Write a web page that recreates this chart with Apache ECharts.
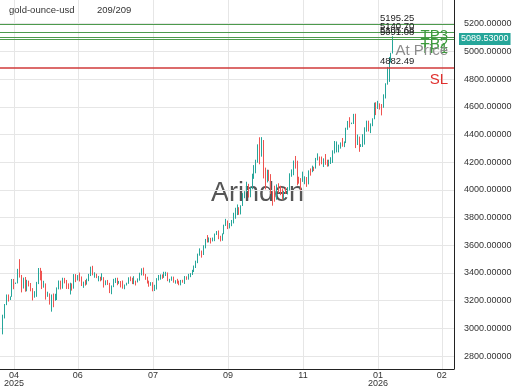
<!DOCTYPE html>
<html><head><meta charset="utf-8">
<script src="https://cdn.jsdelivr.net/npm/echarts@6/dist/echarts.min.js"></script>
<style>html,body{margin:0;padding:0;background:#fff}#c{width:520px;height:390px}</style>
</head><body><div id="c"></div>
<script>
// daily candles [open, close, low, high], 2025-04-09 .. 2026-01-26 (209 weekdays)
const apr = [[2982,3083,2957,3099],[3083,3175,3072,3176],[3175,3237,3168,3245],[3237,3211,3194,3245],[3211,3230,3205,3231],[3230,3343,3228,3357],[3343,3327,3283,3357],[3327,3327,3321,3331],[3327,3424,3325,3430],[3424,3381,3367,3500],[3381,3288,3260,3386],[3288,3349,3288,3367],[3349,3319,3265,3371],[3319,3344,3268,3351],[3344,3316,3303,3345],[3316,3289,3268,3328]];
const may = [[3289,3239,3202,3291],[3239,3241,3222,3269],[3241,3334,3228,3336],[3334,3431,3320,3436],[3431,3365,3347,3437],[3365,3306,3284,3416],[3306,3325,3294,3344],[3325,3236,3208,3325],[3236,3249,3228,3265],[3249,3178,3172,3253],[3178,3240,3121,3245],[3240,3201,3153,3252],[3201,3230,3200,3250],[3230,3290,3205,3296],[3290,3314,3282,3346],[3314,3294,3281,3345],[3294,3357,3287,3366],[3357,3342,3325,3365],[3342,3300,3285,3350],[3300,3288,3284,3325],[3288,3318,3245,3330],[3318,3289,3273,3325]];
const jun = [[3289,3381,3287,3392],[3381,3352,3334,3392],[3352,3374,3346,3385],[3374,3352,3339,3403],[3352,3310,3306,3375],[3310,3325,3293,3338],[3325,3322,3309,3349],[3322,3354,3316,3359],[3354,3386,3341,3394],[3386,3432,3378,3446],[3432,3385,3383,3452],[3385,3388,3366,3405],[3388,3369,3363,3395],[3369,3369,3340,3379],[3369,3368,3340,3373],[3368,3368,3347,3398],[3368,3323,3295,3370],[3323,3332,3312,3347],[3332,3328,3314,3350],[3328,3274,3255,3329],[3274,3303,3247,3310]];
const jul = [[3303,3338,3298,3358],[3338,3357,3328,3365],[3357,3326,3312,3366],[3326,3337,3322,3343],[3337,3336,3296,3342],[3336,3302,3287,3346],[3302,3313,3283,3317],[3313,3325,3310,3330],[3325,3355,3322,3369],[3355,3343,3341,3375],[3343,3324,3320,3366],[3324,3347,3319,3377],[3347,3339,3310,3345],[3339,3350,3332,3361],[3350,3397,3345,3402],[3397,3432,3383,3434],[3432,3387,3381,3439],[3387,3368,3351,3393],[3368,3337,3324,3373],[3337,3314,3301,3345],[3314,3326,3308,3334],[3326,3275,3268,3334],[3275,3289,3270,3315]];
const aug = [[3289,3363,3281,3363],[3363,3373,3346,3386],[3373,3380,3352,3390],[3380,3369,3358,3390],[3369,3397,3365,3409],[3397,3398,3378,3409],[3398,3342,3341,3404],[3342,3348,3331,3358],[3348,3356,3344,3375],[3356,3336,3330,3374],[3336,3336,3323,3348],[3336,3332,3323,3358],[3332,3316,3312,3345],[3316,3348,3311,3350],[3348,3339,3330,3351],[3339,3372,3321,3378],[3372,3366,3351,3376],[3366,3393,3352,3394],[3393,3397,3370,3399],[3397,3416,3386,3423],[3416,3447,3407,3454]];
const sep = [[3447,3476,3436,3489],[3476,3533,3471,3540],[3533,3559,3525,3578],[3559,3545,3511,3562],[3545,3587,3530,3600],[3587,3636,3578,3646],[3636,3625,3620,3674],[3625,3641,3621,3657],[3641,3634,3613,3654],[3634,3643,3628,3656],[3643,3679,3630,3685],[3679,3690,3675,3703],[3690,3660,3644,3707],[3660,3643,3628,3669],[3643,3685,3633,3686],[3685,3746,3680,3749],[3746,3764,3740,3791],[3764,3736,3717,3779],[3736,3749,3722,3761],[3749,3760,3738,3783],[3760,3833,3758,3835],[3833,3859,3792,3871]];
const oct = [[3859,3865,3818,3895],[3865,3857,3820,3875],[3857,3886,3823,3889],[3886,3961,3884,3977],[3961,3985,3940,3991],[3985,4040,3983,4059],[4040,3976,3945,4044],[3976,4018,3947,4022],[4018,4110,4005,4117],[4110,4142,4080,4179],[4142,4208,4120,4218],[4208,4326,4196,4329],[4326,4252,4185,4380],[4252,4356,4240,4381],[4356,4125,4083,4360],[4125,4093,4004,4161],[4093,4126,4054,4146],[4126,4112,4063,4145],[4112,3982,3971,4114],[3982,3951,3886,3991],[3951,3930,3915,4030],[3930,4024,3929,4040],[4024,4003,3976,4048]];
const nov = [[4003,4001,3962,4030],[4001,3932,3929,4011],[3932,3980,3931,3992],[3980,3977,3971,4020],[3977,4000,3967,4020],[4000,4116,3996,4120],[4116,4127,4095,4148],[4127,4195,4106,4212],[4195,4171,4154,4245],[4171,4080,4033,4211],[4080,4068,4045,4095],[4068,4066,3997,4085],[4066,4078,4058,4132],[4078,4078,4041,4098],[4078,4064,4022,4093],[4064,4137,4040,4141],[4137,4132,4103,4155],[4132,4162,4128,4175],[4162,4157,4136,4167],[4157,4216,4154,4231]];
const dec = [[4216,4231,4213,4264],[4231,4206,4175,4241],[4206,4200,4185,4241],[4200,4206,4165,4228],[4206,4198,4181,4259],[4198,4190,4168,4218],[4190,4208,4170,4218],[4208,4228,4187,4236],[4228,4279,4195,4286],[4279,4300,4263,4353],[4300,4303,4271,4350],[4303,4303,4271,4327],[4303,4338,4298,4343],[4338,4330,4312,4375],[4330,4339,4309,4350],[4339,4444,4338,4449],[4444,4491,4434,4498],[4491,4480,4450,4525],[4480,4481,4475,4486],[4481,4533,4476,4549],[4533,4332,4302,4550],[4332,4371,4324,4400],[4371,4318,4275,4385]];
const jan = [[4318,4320,4310,4330],[4320,4330,4310,4402],[4330,4448,4327,4452],[4448,4495,4420,4500],[4495,4455,4422,4500],[4455,4478,4410,4480],[4478,4510,4460,4517],[4510,4598,4510,4630],[4598,4590,4540,4633],[4590,4625,4585,4643],[4625,4615,4580,4625],[4615,4595,4538,4620],[4595,4670,4593,4690],[4670,4765,4660,4770],[4765,4830,4760,4888],[4830,4935,4780,4960],[4935,4985,4920,4990],[4985,5089.53,4985,5110]];

const yTicks = [2800,3000,3200,3400,3600,3800,4000,4200,4400,4600,4800,5000,5200,5400];
const xTickSlots = [7,41,81,121,161,201,235];
const xTickTexts = ['04\n2025','06','07','09','11','01\n2026','02'];
const levelNames = ['TP3','TP2','TP1','At Price','SL'];
const levelValues = [5195.25,5140.70,5105.68,5091.08,4882.49];
const levelColors = ['#3d9a3d','#3d9a3d','#3d9a3d','#8c8c8c','#e0302e'];
const levelLineColors = ['#4d9a4d','#4d9a4d','#4d9a4d','#4d9a4d','#d03a3a'];
const levelLineWidths = [1,1,1,1,1.6];
const lastPrice = 5089.53;
const header = ['gold-ounce-usd','209/209'];
const watermark = 'Arinden';

const candles = [].concat(apr,may,jun,jul,aug,sep,oct,nov,dec,jan);
const padLeft = 1, totalSlots = 242, labelSlot = 202;
const cats = [];
for (let i = 0; i < totalSlots; i++) cats.push('s' + i);
const data = candles.map((c, i) => [i + padLeft, c[0], c[1], c[2], c[3]]);
const font = 'Liberation Sans, Arial, sans-serif';
const isTick = (i) => xTickSlots.indexOf(i) >= 0;

const mlData = levelValues.map((v, k) => ({
  yAxis: v, name: levelNames[k],
  lineStyle: { color: levelLineColors[k], width: levelLineWidths[k], type: 'solid', opacity: 1 },
  label: { show: true, position: 'insideEndBottom', distance: [6, 4.5], formatter: levelNames[k],
           color: levelColors[k], fontSize: 15, fontFamily: font }
}));
mlData.push({
  yAxis: lastPrice,
  lineStyle: { color: '#4d9a4d', width: 1, type: 'solid' },
  label: { show: true, position: 'end', distance: 5, formatter: lastPrice.toFixed(5),
           backgroundColor: '#26a69a', color: '#fff', fontSize: 9, padding: [2, 2, 1, 2], fontFamily: font }
});
const mpData = levelValues.map((v) => ({
  coord: [labelSlot, v], value: v,
  label: { show: true, position: [0, -11], formatter: v.toFixed(2), color: '#222', fontSize: 9.5, fontFamily: font }
}));

const chart = echarts.init(document.getElementById('c'), null, { renderer: 'canvas' });
chart.setOption({
  animation: false,
  backgroundColor: '#fff',
  grid: { left: 0, right: 66, top: -4, bottom: 21, containLabel: false, outerBoundsMode: 'none' },
  xAxis: {
    type: 'category', data: cats, boundaryGap: true,
    axisLine: { show: true, lineStyle: { color: '#222', width: 1 } },
    axisTick: { show: false },
    axisLabel: { interval: (i) => isTick(i), formatter: (v, i) => xTickTexts[xTickSlots.indexOf(i)] || '',
                 fontSize: 9, lineHeight: 8.5, color: '#333', margin: 2, fontFamily: font },
    splitLine: { show: true, interval: (i) => isTick(i), alignWithLabel: true, lineStyle: { color: '#e6e6e6', width: 1 } }
  },
  yAxis: {
    type: 'value', position: 'right', min: 2707, max: 5400, scale: true,
    axisLine: { show: true, lineStyle: { color: '#222', width: 1 } },
    axisTick: { show: false, customValues: yTicks },
    axisLabel: { customValues: yTicks, formatter: (v) => v.toFixed(5), fontSize: 9, color: '#333', margin: 10, fontFamily: font },
    splitLine: { show: true, lineStyle: { color: '#e6e6e6', width: 1 } }
  },
  graphic: [
    { type: 'text', left: 9, top: 5, z: 100, style: { text: header[0], font: '9.5px ' + font, fill: '#333' } },
    { type: 'text', left: 97, top: 5, z: 100, style: { text: header[1], font: '9.5px ' + font, fill: '#333' } },
    { type: 'text', left: 211, top: 180, z: -1, style: { text: watermark, font: '27px ' + font, fill: '#555' } }
  ],
  series: [{
    type: 'candlestick',
    data: data,
    dimensions: ['slot', 'open', 'close', 'lowest', 'highest'],
    encode: { x: 'slot', y: ['open', 'close', 'lowest', 'highest'] },
    itemStyle: { color: '#26a69a', color0: '#ef5350', borderColor: '#26a69a', borderColor0: '#ef5350', borderWidth: 1 },
    markLine: { silent: true, symbol: ['none', 'none'], animation: false, data: mlData },
    markPoint: { silent: true, symbol: 'rect', symbolSize: 0, animation: false, data: mpData }
  }]
});
</script></body></html>
